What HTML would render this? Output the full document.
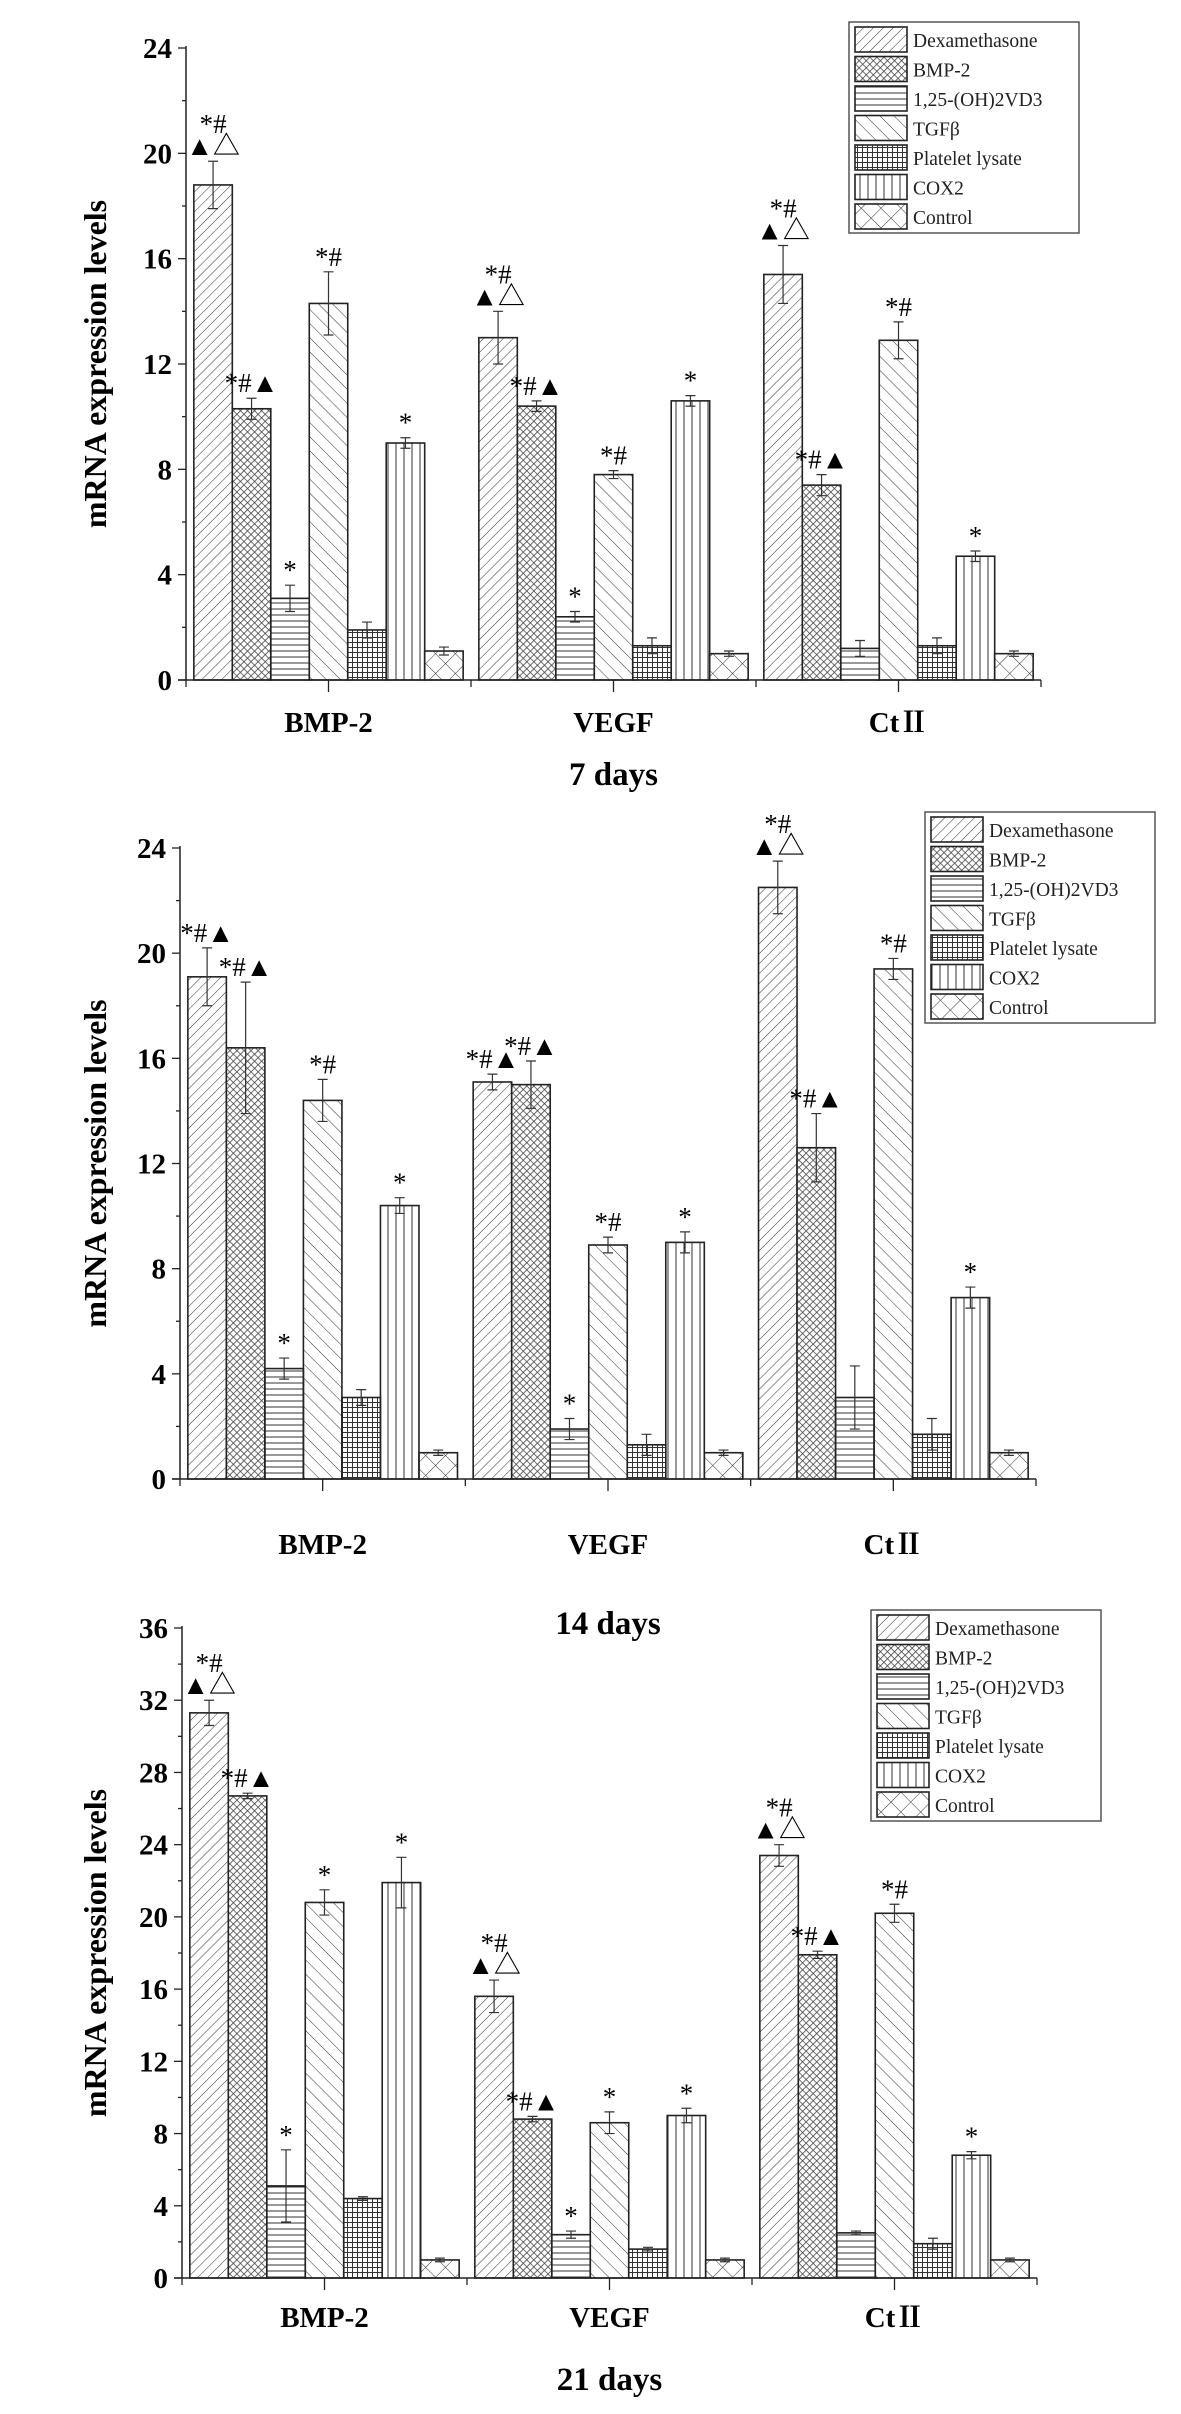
<!DOCTYPE html>
<html><head><meta charset="utf-8">
<style>
html,body{margin:0;padding:0;background:#fff;}
svg{display:block;}
text{font-family:"Liberation Serif","Noto Serif CJK SC",serif;}
</style></head>
<body>
<svg id="chart" width="1181" height="2414" viewBox="0 0 1181 2414" xmlns="http://www.w3.org/2000/svg">
<defs>
<pattern id="p0" patternUnits="userSpaceOnUse" width="7" height="7" patternTransform="rotate(45)"><line x1="0" y1="0" x2="0" y2="7" stroke="#333" stroke-width="1"/></pattern>
<pattern id="p1" patternUnits="userSpaceOnUse" width="5" height="5" patternTransform="rotate(45)"><rect width="5" height="5" fill="#fff"/><path d="M0 0H5M0 0V5" stroke="#444" stroke-width="1.6"/></pattern>
<pattern id="p2" patternUnits="userSpaceOnUse" width="6" height="6"><line x1="0" y1="3" x2="6" y2="3" stroke="#333" stroke-width="1"/></pattern>
<pattern id="p3" patternUnits="userSpaceOnUse" width="10" height="10" patternTransform="rotate(-45)"><line x1="0" y1="0" x2="0" y2="10" stroke="#333" stroke-width="1"/></pattern>
<pattern id="p4" patternUnits="userSpaceOnUse" width="5" height="5"><path d="M0 2.5H5M2.5 0V5" stroke="#333" stroke-width="1"/></pattern>
<pattern id="p5" patternUnits="userSpaceOnUse" width="8" height="8"><line x1="4" y1="0" x2="4" y2="8" stroke="#333" stroke-width="1"/></pattern>
<pattern id="p6" patternUnits="userSpaceOnUse" width="14" height="14" patternTransform="rotate(45)"><path d="M0 0H14M0 0V14" stroke="#333" stroke-width="1"/></pattern>
</defs>
</svg>
<script>
const seriesNames = ["Dexamethasone","BMP-2","1,25-(OH)2VD3","TGFβ","Platelet lysate","COX2","Control"];
const categories = ["BMP-2","VEGF","CtⅡ"];
const panelTitles = ["7 days","14 days","21 days"];
const yMaxes = [24,24,36];
const values7 = [[18.8,10.3,3.1,14.3,1.9,9.0,1.1],[13.0,10.4,2.4,7.8,1.3,10.6,1.0],[15.4,7.4,1.2,12.9,1.3,4.7,1.0]];
const errors7 = [[0.9,0.4,0.5,1.2,0.3,0.2,0.15],[1.0,0.2,0.2,0.15,0.3,0.2,0.1],[1.1,0.4,0.3,0.7,0.3,0.2,0.1]];
const values14 = [[19.1,16.4,4.2,14.4,3.1,10.4,1.0],[15.1,15.0,1.9,8.9,1.3,9.0,1.0],[22.5,12.6,3.1,19.4,1.7,6.9,1.0]];
const errors14 = [[1.1,2.5,0.4,0.8,0.3,0.3,0.1],[0.3,0.9,0.4,0.3,0.4,0.4,0.1],[1.0,1.3,1.2,0.4,0.6,0.4,0.1]];
const values21 = [[31.3,26.7,5.1,20.8,4.4,21.9,1.0],[15.6,8.8,2.4,8.6,1.6,9.0,1.0],[23.4,17.9,2.5,20.2,1.9,6.8,1.0]];
const errors21 = [[0.7,0.15,2.0,0.7,0.1,1.4,0.1],[0.9,0.15,0.2,0.6,0.1,0.4,0.1],[0.6,0.2,0.1,0.5,0.3,0.2,0.1]];
const notes7 = [["*#|▲△","*#▲","*","*#","","*",""],["*#|▲△","*#▲","*","*#","","*",""],["*#|▲△","*#▲","","*#","","*",""]];
const notes14 = [["*#▲","*#▲","*","*#","","*",""],["*#▲","*#▲","*","*#","","*",""],["*#|▲△","*#▲","","*#","","*",""]];
const notes21 = [["*#|▲△","*#▲","*","*","","*",""],["*#|▲△","*#▲","*","*","","*",""],["*#|▲△","*#▲","","*#","","*",""]];

const panels = [
 {vals:values7,errs:errors7,notes:notes7,yTop:48,y0:680,x0:186,x1:1041,lx:849,ly:22,cy:732,ty:785},
 {vals:values14,errs:errors14,notes:notes14,yTop:848,y0:1479,x0:180,x1:1036,lx:925,ly:812,cy:1554,ty:1634},
 {vals:values21,errs:errors21,notes:notes21,yTop:1628,y0:2278,x0:182,x1:1037,lx:871,ly:1610,cy:2327,ty:2390}
];
const svg = document.getElementById('chart');
const NS = 'http://www.w3.org/2000/svg';
function mk(tag, attrs, parent){const e=document.createElementNS(NS,tag);for(const k in attrs)e.setAttribute(k,attrs[k]);(parent||svg).appendChild(e);return e;}

panels.forEach((P,pi)=>{
  const g = mk('g',{});
  
  
  const ymax = yMaxes[pi];
  const yS = v => P.y0 - (P.y0-P.yTop)*v/ymax;
  const gw = (P.x1-P.x0)/3;
  const bw = gw*0.135;
  const pad = (gw-7*bw)/2;
  const ax = mk('line',{x1:P.x0,y1:P.yTop-2,x2:P.x0,y2:P.y0,stroke:'#222','stroke-width':1.5},g);
  
  
  for(let v=0; v<=ymax; v+=2){
    const major = v%4===0;
    mk('line',{x1:P.x0-(major?8:4),y1:yS(v),x2:P.x0,y2:yS(v),stroke:'#222','stroke-width':1.3},g);
    if(major){
      const t = mk('text',{x:P.x0-14,y:yS(v)+10,'text-anchor':'end','font-size':29,'font-weight':'bold'},g);
      t.textContent = v;
      
      
    }
  }
  const yl = mk('text',{x:0,y:0,'text-anchor':'middle','font-size':32,'font-weight':'bold',transform:`translate(106,${(P.yTop+P.y0)/2}) rotate(-90)`},g);
  yl.textContent = 'mRNA expression levels';
  
  

  categories.forEach((c,ci)=>{
    const gx = P.x0 + ci*gw;
    seriesNames.forEach((s,si)=>{
      const v = P.vals[ci][si], e = P.errs[ci][si];
      const bx = gx + pad + si*bw;
      const r = mk('rect',{x:bx,y:yS(v),width:bw,height:P.y0-yS(v),fill:'url(#p'+si+')',stroke:'#222','stroke-width':1.6},g);
      
      
      const cx = bx+bw/2;
      const eb = mk('path',{d:`M${cx} ${yS(v+e)}V${yS(v-e)}M${cx-5} ${yS(v+e)}H${cx+5}M${cx-5} ${yS(v-e)}H${cx+5}`,stroke:'#333','stroke-width':1.2,fill:'none'},g);
      
      
      const note = P.notes[ci][si];
      if(note){
        const lines = note.split('|');
        let by = yS(v+e) - 6;
        for(let li=lines.length-1; li>=0; li--){
          const t = mk('text',{x:cx,y:by,'text-anchor':'middle','font-size':27,'font-weight':'normal'},g);
          t.textContent = lines[li];
          
          
          by -= 22;
        }
      }
    });
    const ct = mk('text',{x:gx+gw/2,y:P.cy,'text-anchor':'middle','font-size':29,'font-weight':'bold'},g);
    ct.textContent = c;
    
    
    mk('line',{x1:gx+gw/2,y1:P.y0,x2:gx+gw/2,y2:P.y0+12,stroke:'#222','stroke-width':1.3},g);
  });
  for(let k=0;k<=3;k++) mk('line',{x1:P.x0+k*gw,y1:P.y0,x2:P.x0+k*gw,y2:P.y0+7,stroke:'#222','stroke-width':1.3},g);
  const xa = mk('line',{x1:P.x0-8,y1:P.y0,x2:P.x1,y2:P.y0,stroke:'#222','stroke-width':1.6},g);
  
  
  const tt = mk('text',{x:(P.x0+P.x1)/2,y:P.ty,'text-anchor':'middle','font-size':33,'font-weight':'bold'},g);
  tt.textContent = panelTitles[pi];
  
  

  const lg = mk('g',{},g);
  
  
  mk('rect',{x:P.lx,y:P.ly,width:230,height:211,fill:'#fff',stroke:'#555','stroke-width':1.5},lg);
  seriesNames.forEach((s,si)=>{
    const ey = P.ly+5+si*29.5;
    const le = mk('g',{},lg);
    
    
    mk('rect',{x:P.lx+6,y:ey,width:52,height:25,fill:'url(#p'+si+')',stroke:'#222','stroke-width':1.6},le);
    const t = mk('text',{x:P.lx+64,y:ey+20,'font-size':19.5,fill:'#222'},le);
    t.textContent = s;
  });
});
</script>
</body></html>
